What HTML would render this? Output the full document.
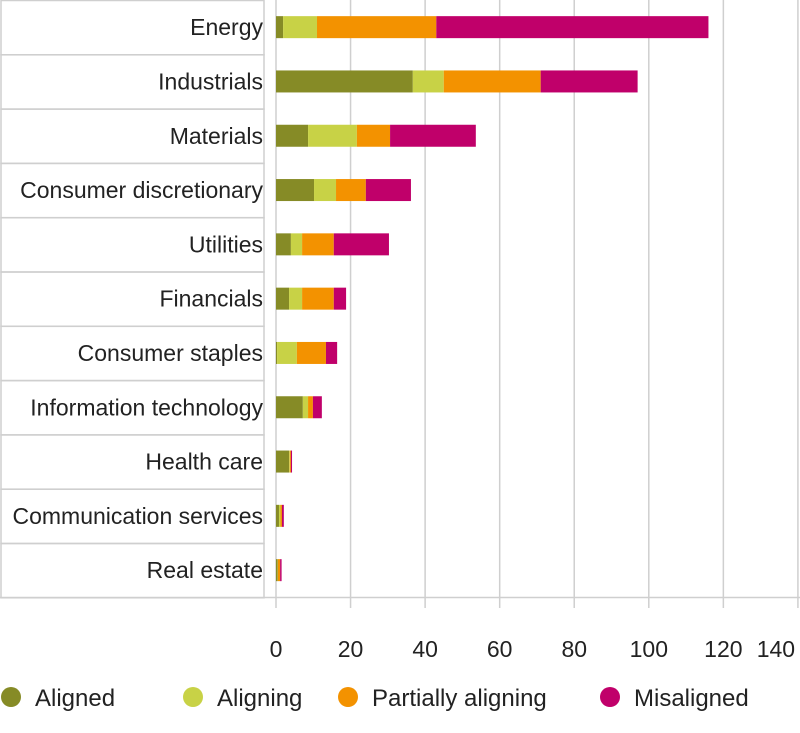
<!DOCTYPE html>
<html><head><meta charset="utf-8"><style>
body{margin:0;background:#fff;width:800px;height:728px;overflow:hidden}
svg text{font-family:"Liberation Sans",sans-serif;fill:#222}
</style></head><body>
<svg id="chart" width="800" height="728" xmlns="http://www.w3.org/2000/svg"></svg>
<script>
const categories=["Energy","Industrials","Materials","Consumer discretionary","Utilities","Financials","Consumer staples","Information technology","Health care","Communication services","Real estate"];
const aligned=[1.9,36.7,8.6,10.2,4,3.5,0.3,7.2,3.5,0.8,0.4];
const aligning=[9.1,8.3,13.1,5.9,3,3.5,5.3,1.4,0.2,0.4,0.1];
const partial=[32,26,8.9,8,8.5,8.5,7.8,1.3,0.3,0.4,0.6];
const misaligned=[73,26,23,12.1,14.8,3.3,3,2.4,0.3,0.5,0.4];
const ticks=[0,20,40,60,80,100,120,140];
const seriesNames=["Aligned","Aligning","Partially aligning","Misaligned"];
const colors=["#868b26","#c8d246","#f39200","#c0006a"];
const NS="http://www.w3.org/2000/svg";
const svg=document.getElementById("chart");
const x0=276,pxPer=3.728,top0=0,rowH=54.3;
const xs=v=>x0+v*pxPer;
const yr=i=>top0+i*rowH;
function mk(tag,attrs,parent){const e=document.createElementNS(NS,tag);for(const k in attrs)e.setAttribute(k,attrs[k]);(parent||svg).appendChild(e);return e;}
ticks.forEach((t,i)=>{
  const g=mk("line",{x1:xs(t),x2:xs(t),y1:0,y2:608,stroke:"#cfcfcf","stroke-width":1.5});
  
  
  const tx=mk("text",{x:(t===140?xs(t)-22:xs(t)),y:657,"text-anchor":"middle","font-size":23});
  tx.textContent=t;
  
  
});
categories.forEach((c,i)=>{
  const r=mk("rect",{x:1,y:yr(i)+0.5,width:263,height:rowH,fill:"none",stroke:"#cfcfcf","stroke-width":1.5});
  
  
  const t=mk("text",{x:263,y:yr(i)+rowH/2+8,"text-anchor":"end","font-size":23});
  t.textContent=c;
  
  
});
const bl=mk("line",{x1:0,x2:800,y1:597.5,y2:597.5,stroke:"#cfcfcf","stroke-width":1.5});


const series=[aligned,aligning,partial,misaligned];
categories.forEach((c,i)=>{
  let acc=0;
  series.forEach((s,k)=>{
    const b=mk("rect",{x:xs(acc),y:yr(i)+rowH/2-11,width:Math.max(0,xs(acc+s[i])-xs(acc)),height:22,fill:colors[k]});
    
    
    acc+=s[i];
  });
});
const lx=[11,193,348,610];
seriesNames.forEach((n,k)=>{
  const c=mk("circle",{cx:lx[k],cy:697,r:10,fill:colors[k]});
  
  
  const t=mk("text",{x:lx[k]+24,y:706,"font-size":24});
  t.textContent=n;
  
  
});
</script>
</body></html>
